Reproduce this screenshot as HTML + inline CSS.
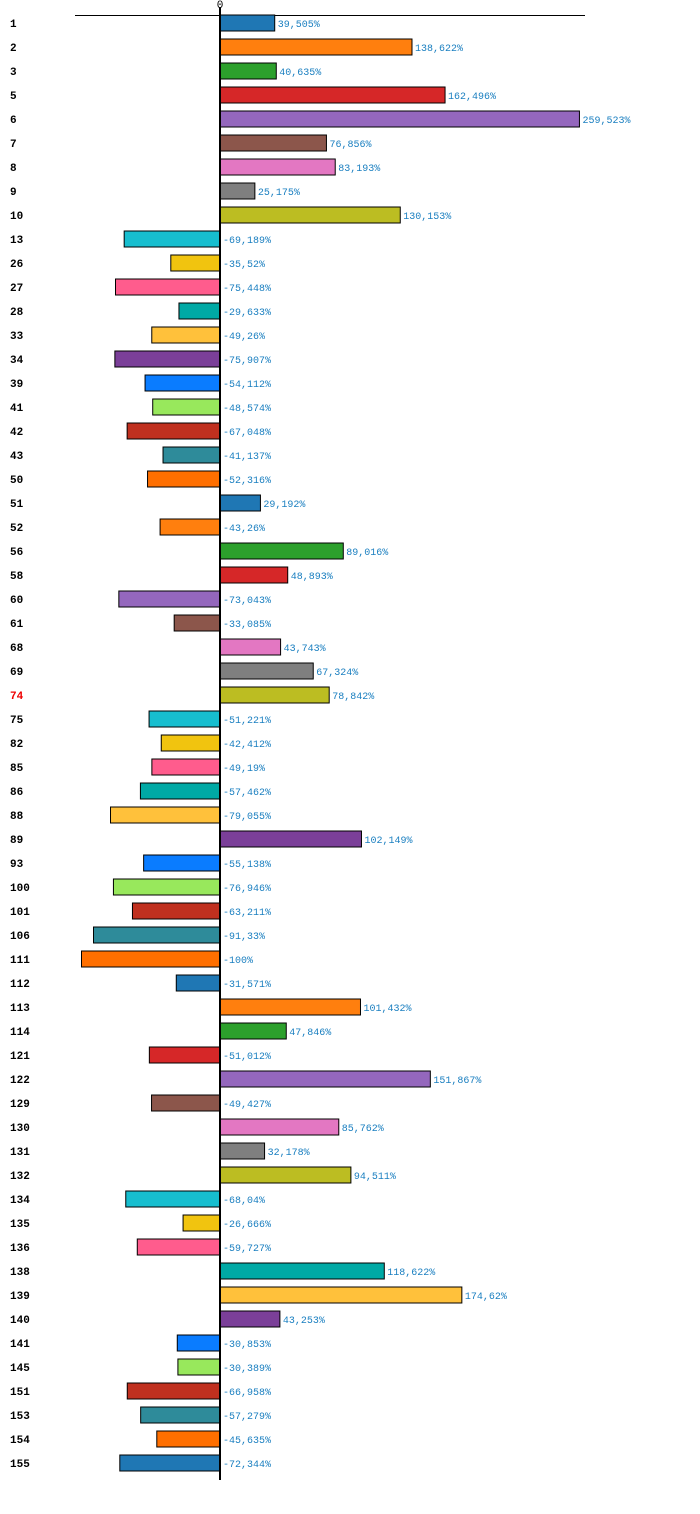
<!DOCTYPE html>
<html><head><meta charset="utf-8"><style>
body{margin:0;background:#fff;}
svg text{font-family:"Liberation Mono","DejaVu Sans Mono",monospace;}
</style></head><body>
<svg id="chart" width="700" height="1509" xmlns="http://www.w3.org/2000/svg"></svg>
<script>
const categories=["1","2","3","5","6","7","8","9","10","13","26","27","28","33","34","39","41","42","43","50","51","52","56","58","60","61","68","69","74","75","82","85","86","88","89","93","100","101","106","111","112","113","114","121","122","129","130","131","132","134","135","136","138","139","140","141","145","151","153","154","155"];
const values=[39.505,138.622,40.635,162.496,259.523,76.856,83.193,25.175,130.153,-69.189,-35.52,-75.448,-29.633,-49.26,-75.907,-54.112,-48.574,-67.048,-41.137,-52.316,29.192,-43.26,89.016,48.893,-73.043,-33.085,43.743,67.324,78.842,-51.221,-42.412,-49.19,-57.462,-79.055,102.149,-55.138,-76.946,-63.211,-91.33,-100,-31.571,101.432,47.846,-51.012,151.867,-49.427,85.762,32.178,94.511,-68.04,-26.666,-59.727,118.622,174.62,43.253,-30.853,-30.389,-66.958,-57.279,-45.635,-72.344];
const valueLabels=["39,505%","138,622%","40,635%","162,496%","259,523%","76,856%","83,193%","25,175%","130,153%","-69,189%","-35,52%","-75,448%","-29,633%","-49,26%","-75,907%","-54,112%","-48,574%","-67,048%","-41,137%","-52,316%","29,192%","-43,26%","89,016%","48,893%","-73,043%","-33,085%","43,743%","67,324%","78,842%","-51,221%","-42,412%","-49,19%","-57,462%","-79,055%","102,149%","-55,138%","-76,946%","-63,211%","-91,33%","-100%","-31,571%","101,432%","47,846%","-51,012%","151,867%","-49,427%","85,762%","32,178%","94,511%","-68,04%","-26,666%","-59,727%","118,622%","174,62%","43,253%","-30,853%","-30,389%","-66,958%","-57,279%","-45,635%","-72,344%"];
const highlight="74";
const palette=["#1f77b4","#ff7f0e","#2ca02c","#d62728","#9467bd","#8c564b","#e377c2","#7f7f7f","#bcbd22","#17becf","#f1c40f","#ff5c8d","#00a9a5","#ffc13b","#7b3f99","#0a7cff","#98e85c","#c0301f","#2e8b9a","#ff6f00"];
const NS="http://www.w3.org/2000/svg";
const svg=document.getElementById('chart');
const x0=220,scale=1.385;
const xs=v=>x0+v*scale;
const ys=i=>23+i*24;
function mk(t,a){const e=document.createElementNS(NS,t);for(const k in a)e.setAttribute(k,a[k]);svg.appendChild(e);return e;}
const ax=mk('line',{x1:75,y1:15.5,x2:585,y2:15.5,stroke:'#000','stroke-width':1});


const zt=mk('text',{x:x0,y:8,'font-size':11,'text-anchor':'middle',fill:'#000'});zt.textContent='0';


values.forEach((v,i)=>{
  const y=ys(i);
  const xa=Math.min(xs(0),xs(v)),w=Math.abs(xs(v)-xs(0));
  const r=mk('rect',{x:xa,y:y-8,width:w,height:16,fill:palette[i%20],stroke:'#000','stroke-width':1});
  
  
  const l=mk('text',{x:10,y:y+4,'font-size':11,'font-weight':'bold',fill:categories[i]===highlight?'#e00':'#000'});
  l.textContent=categories[i];
  
  
  const t=mk('text',{x:(v>=0?xs(v):x0)+3,y:y+4,'font-size':10,fill:'#1a7fc0'});
  t.textContent=valueLabels[i];
  
  
});
const zl=mk('line',{x1:x0,y1:7,x2:x0,y2:1480,stroke:'#000','stroke-width':2});


</script>
</body></html>
